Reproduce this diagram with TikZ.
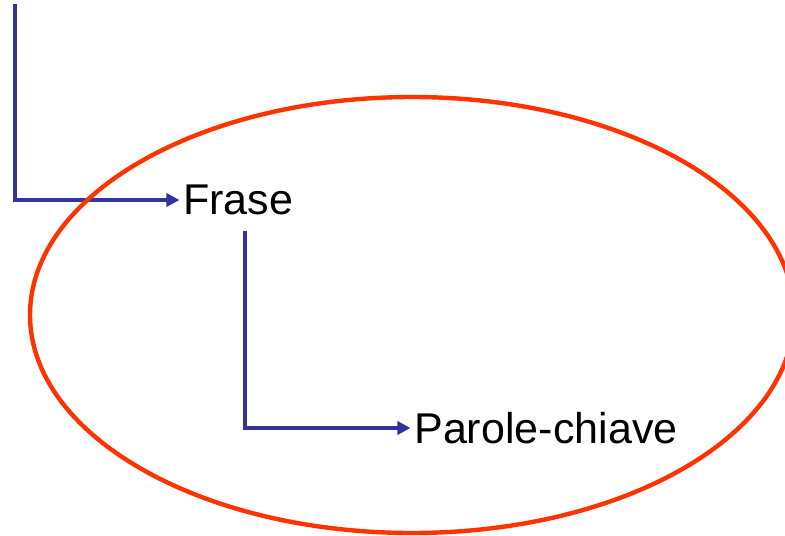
\documentclass[tikz,border=0pt]{standalone}
\usepackage{fontspec}
\setmainfont{Liberation Sans}
\usetikzlibrary{arrows.meta}
\definecolor{linkblue}{RGB}{51,51,153}
\definecolor{ringred}{RGB}{255,51,0}
\tikzset{
  label text/.style={anchor=west, inner sep=0pt, font=\fontsize{24.5}{28}\selectfont},
  link/.style={linkblue, line width=2.6pt, -{Triangle[length=7.5pt,width=7.5pt]}},
}
\begin{document}
\begin{tikzpicture}[x=0.02cm, y=-0.02cm]
            \useasboundingbox (0,0) rectangle (785,535);
            \clip (0,0) rectangle (785,535);

            \coordinate (S) at (15,4);
            \coordinate (D) at (245,231);

            \node[label text] (frase) at (183,200) {Frase};
            \node[label text] (parole) at (414,428) {Parole-chiave};

            \draw[link] (S) |- ([xshift=-2pt]frase.west);
            \draw[link] (D) |- ([xshift=-2pt]parole.west);

            \draw[ringred, line width=2.5pt] (412,315) ellipse [x radius=382, y radius=218];
        \end{tikzpicture}
\end{document}
